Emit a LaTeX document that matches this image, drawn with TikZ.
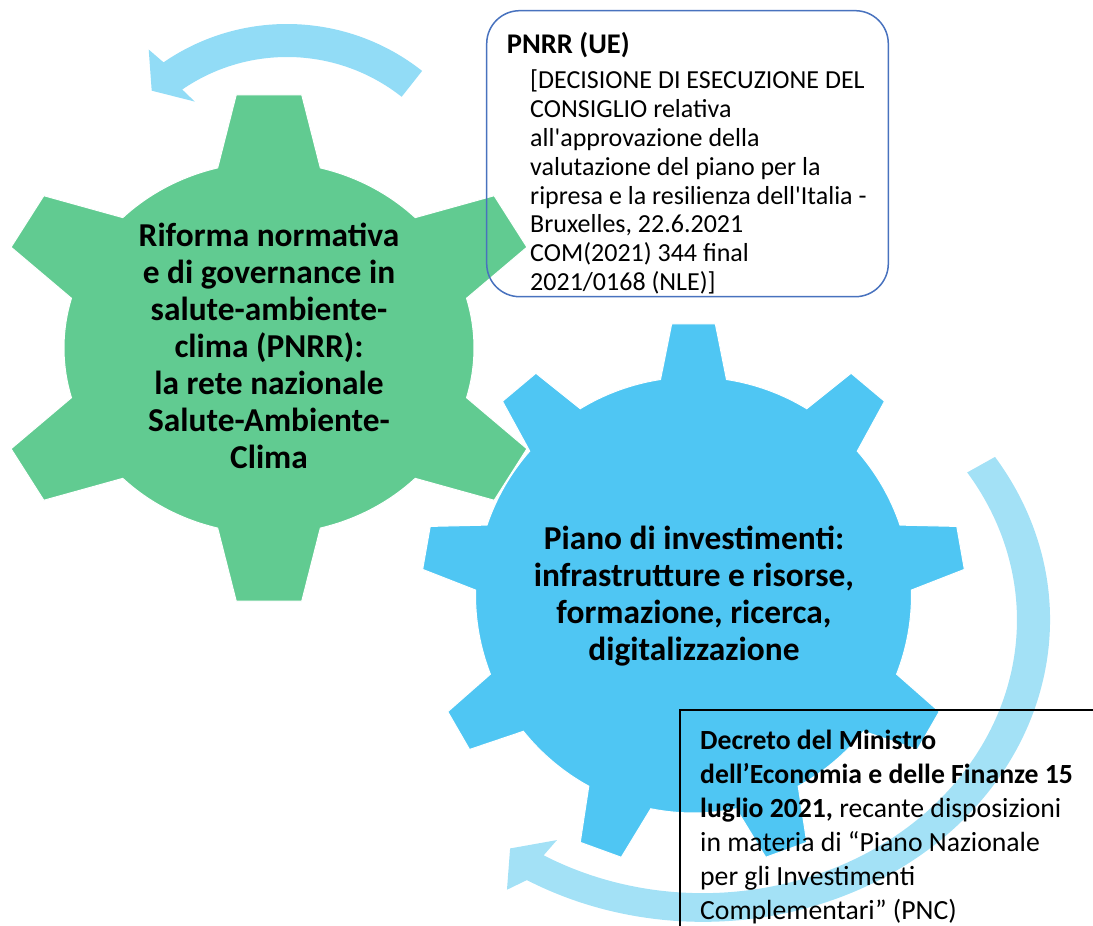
\documentclass[tikz,border=0pt]{standalone}
\usepackage{fontspec}
\newfontfamily\calfont{Carlito}

\definecolor{verde}{RGB}{97,203,145}
\definecolor{azzurro}{RGB}{79,198,243}
\definecolor{frecciasu}{RGB}{146,220,246}
\definecolor{frecciagiu}{RGB}{163,225,246}
\definecolor{bordoblu}{RGB}{72,114,190}

\begin{document}
\begin{tikzpicture}[x=1pt, y=1pt, font=\calfont,
    testoruota/.style={align=center, inner sep=0, font=\calfont\fontsize{33.4}{37}\selectfont\bfseries},
    testobox/.style={anchor=north west, align=left, inner sep=0}]
    % Area del disegno
    \useasboundingbox (0,0) rectangle (1093,926);
    \clip (0,0) rectangle (1093,926);

    % Ingranaggio verde (6 denti)
    \begin{scope}[shift={(269,578)}, xscale=205, yscale=186]
        \filldraw[fill=verde, draw=white, line width=1pt] (15.5:1)
            \foreach \a in {30,90,...,330} {
                -- (\a-14.5:1) -- (\a-6.7:1.37) -- (\a+6.7:1.37) -- (\a+14.5:1)
                arc[start angle=\a+14.5, end angle=\a+45.5, radius=1]
            } -- cycle;
    \end{scope}

    % Ingranaggio azzurro (9 denti)
    \begin{scope}[shift={(693.5,331)}, scale=218]
        \filldraw[fill=azzurro, draw=white, line width=1pt] (1.3:1)
            \foreach \a in {10,50,...,330} {
                -- (\a-8.7:1) -- (\a-4.6:1.248) -- (\a+4.6:1.248) -- (\a+8.7:1)
                arc[start angle=\a+8.7, end angle=\a+31.3, radius=1]
            } -- cycle;
    \end{scope}

    % Freccia in alto
    \begin{scope}[shift={(287,684)}]
        \fill[frecciasu] (51.7:218) arc[start angle=51.7, end angle=124.5, radius=218]
            -- (125.7:237) -- (131.8:203) -- (123.3:168) -- (124.5:185)
            arc[start angle=124.5, end angle=51.7, radius=185] -- cycle;
    \end{scope}

    % Freccia in basso (ellittica)
    \begin{scope}[shift={(703,306)}, xscale=330.5, yscale=287.5]
        \fill[frecciagiu] (32.7:1.05) arc[start angle=32.7, end angle=-120.5, radius=1.05]
            -- (-122.3:1.11) -- (-126.3:0.986) -- (-120:0.884) -- (-120.5:0.95)
            arc[start angle=-120.5, end angle=32.7, radius=0.95] -- cycle;
    \end{scope}

    % Riquadri
    \draw[bordoblu, line width=1.5pt, rounded corners=33] (486.7,629.3) rectangle (888.3,915.3);
    \draw[black, line width=2.5pt] (680,216) rectangle (1110,-20);

    % Testi degli ingranaggi
    \node[testoruota] (riforma) at (269,580) {Riforma normativa\\e di governance in\\salute-ambiente-\\clima (PNRR):\\la rete nazionale\\Salute-Ambiente-\\Clima};
    \node[testoruota] (piano) at (694,330) {Piano di investimenti:\\infrastrutture e risorse,\\formazione, ricerca,\\digitalizzazione};

    % Testi dei riquadri
    \node[anchor=base west, inner sep=0, font=\calfont\fontsize{28.5}{34}\selectfont\bfseries] (pnrr) at (506.7,872.7) {PNRR (UE)};
    \node[testobox, font=\calfont\fontsize{26}{28.8}\selectfont] (decisione) at (530,856) {[DECISIONE DI ESECUZIONE DEL\\CONSIGLIO relativa\\all'approvazione della\\valutazione del piano per la\\ripresa e la resilienza dell'Italia -\\Bruxelles, 22.6.2021\\COM(2021) 344 final\\2021/0168 (NLE)]};
    \node[testobox, font=\calfont\fontsize{27.7}{34}\selectfont] (decreto) at (700,196) {\textbf{Decreto del Ministro}\\\textbf{dell’Economia e delle Finanze 15}\\\textbf{luglio 2021,} recante disposizioni\\in materia di “Piano Nazionale\\per gli Investimenti\\Complementari” (PNC)};
\end{tikzpicture}
\end{document}
